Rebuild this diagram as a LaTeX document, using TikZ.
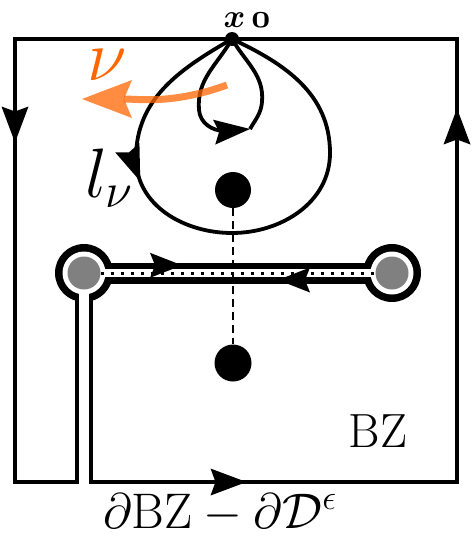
\RequirePackage{fix-cm}
\documentclass[tikz,border=0pt]{standalone}
\usepackage{amsmath,amssymb,bm,xcolor}
\DeclareFontShape{OML}{cmm}{b}{it}{<->cmmib10}{}
\definecolor{nuorange}{RGB}{255,102,0}
\definecolor{holegray}{RGB}{128,128,128}
\usepackage{tikz}
\usetikzlibrary{arrows.meta,decorations.markings}

\begin{document}
\begin{tikzpicture}[x=1pt, y=1pt,
  wall/.style={line width=4pt, line join=miter},
  loopline/.style={line width=3.8pt},
  dot/.style={circle, fill=black, inner sep=0pt, minimum size=#1},
  hole/.style={circle, fill=holegray, inner sep=0pt, minimum size=33pt},
  midarrow/.style={postaction={decorate}, decoration={markings,
    mark=at position #1 with {\arrow{Stealth[length=36pt, width=26pt, inset=5pt, line width=0pt]}}}},
  bigfont/.style={font=\fontsize{#1}{#1}\selectfont, inner sep=0pt}
]
  \useasboundingbox (0,0) rectangle (472,-536);

  % Brillouin zone boundary, cut open at the slit
  \draw[wall, postaction={decorate}, decoration={markings,
      mark=at position 338pt with {\arrow{Stealth[length=36pt, width=27pt, inset=5pt, line width=0pt]}},
      mark=at position 922pt with {\arrow{Stealth[length=36pt, width=27pt, inset=5pt, line width=0pt]}},
      mark=at position 1537pt with {\arrow{Stealth[length=36pt, width=27pt, inset=5pt, line width=0pt]}}}]
    (90.5,-300) -- (90.5,-482) -- (457,-482) -- (457,-39) -- (15,-39) -- (15,-482) -- (77,-482) -- (77,-300);

  % Keyhole around the branch cut
  \coordinate (hl) at (84,-273);
  \coordinate (hr) at (392,-273);
  \fill (hl) circle (29);
  \fill (hr) circle (29);
  \draw[line width=21pt] (hl) -- (hr);
  \fill[white] (hl) circle (21.5);
  \fill[white] (hr) circle (21.5);
  \draw[white, line width=8.5pt] (hl) -- (hr);
  \draw[white, line width=9.5pt] (83.75,-273) -- (83.75,-306);
  \node[hole] (gl) at (hl) {};
  \node[hole] (gr) at (hr) {};
  \draw[line width=3pt, dash pattern=on 3pt off 7pt] (gl) -- (gr);
  \draw[line width=1pt, -{Stealth[length=32pt, width=25pt, inset=5pt, line width=0pt]}] (146,-265.3) -- (182,-265.3);
  \draw[line width=1pt, -{Stealth[length=32pt, width=25pt, inset=5pt, line width=0pt]}] (314,-280) -- (278,-280);

  % Singular points
  \node[dot=36pt] (dtop) at (233,-190) {};
  \node[dot=37pt] (dbot) at (233,-363) {};
  \draw[line width=2.5pt, dash pattern=on 8pt off 5pt] (dtop) -- (dbot);

  % Base point and the two loops
  \node[dot=14pt] (x0) at (232,-39) {};
  \coordinate (corner) at (250,-129);
  \draw[loopline, midarrow=0.31] (x0.center) to[out=210, in=90] (136,-158) to[out=-90, in=180] (232,-233)
    to[out=0, in=-90] (330,-153) to[out=90, in=-25] (x0.center);
  \draw[loopline, -{Stealth[length=36pt, width=25pt, inset=5pt, line width=0pt]}] (x0.center) to[out=240, in=95] (199,-110)
    to[out=-85, in=180] (225,-131) to[out=0, in=185] (corner);
  \draw[loopline] (corner) to[out=60, in=-95] (262,-102) to[out=85, in=-60] (x0.center);

  % Orange arrow nu
  \draw[nuorange, opacity=0.75, line width=7pt, -{Stealth[length=50pt, width=38pt, inset=8pt, line width=0pt]}]
    (227,-85) to[out=200, in=0] (82,-99);

  % Labels
  \node[bigfont=33, anchor=base] (x0lab) at (247,-27) {$\bm{x}\hspace{6pt}\bm{\mathnormal{0}}$};
  \node[bigfont=72, text=nuorange] (nulab) at (107,-65) {$\nu$};
  \node[bigfont=70] (llab) at (109,-178) {$l_\nu$};
  \node[bigfont=48, anchor=base] (bzlab) at (378,-447) {BZ};
  \node[bigfont=50, anchor=base] (dlab) at (220,-528) {$\partial\mathrm{BZ}-\partial\mathcal{D}^{\epsilon}$};
\end{tikzpicture}
\end{document}
